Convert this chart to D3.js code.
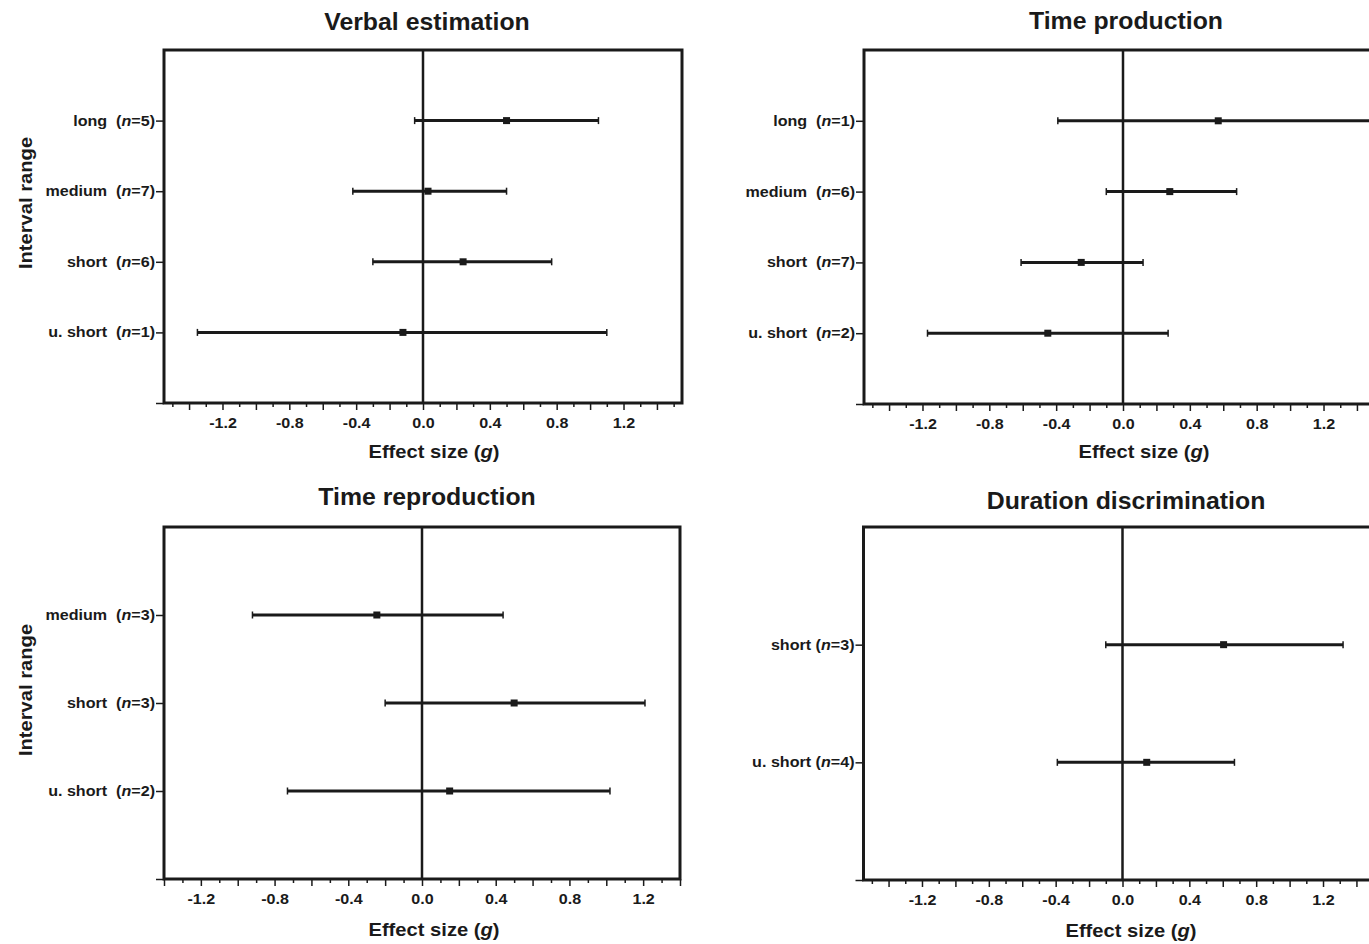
<!DOCTYPE html>
<html>
<head>
<meta charset="utf-8">
<script src="https://cdn.jsdelivr.net/npm/d3@7"></script>
<style>
  html, body { margin: 0; padding: 0; background: #ffffff; }
  svg { display: block; }
  text { font-family: "Liberation Sans", Arial, Helvetica, sans-serif; font-weight: bold; fill: #1a1a1a; white-space: pre; }
</style>
</head>
<body>
<svg id="chart" width="1369" height="944"></svg>
<script>
// ---- Data: effect sizes (Hedges' g) with 95% CI per interval range ----
const verbalRanges = ["u. short", "short", "medium", "long"];
const verbalN      = [1, 6, 7, 5];
const verbalG      = [-0.12, 0.24, 0.03, 0.50];
const verbalLow    = [-1.35, -0.30, -0.42, -0.05];
const verbalHigh   = [1.10, 0.77, 0.50, 1.05];

const productionRanges = ["u. short", "short", "medium", "long"];
const productionN      = [2, 7, 6, 1];
const productionG      = [-0.45, -0.25, 0.28, 0.57];
const productionLow    = [-1.17, -0.61, -0.10, -0.39];
const productionHigh   = [0.27, 0.12, 0.68, 1.53];

const reproductionRanges = ["u. short", "short", "medium"];
const reproductionN      = [2, 3, 3];
const reproductionG      = [0.15, 0.50, -0.245];
const reproductionLow    = [-0.73, -0.20, -0.92];
const reproductionHigh   = [1.02, 1.21, 0.44];

const discriminationRanges = ["u. short", "short"];
const discriminationN      = [4, 3];
const discriminationG      = [0.145, 0.605];
const discriminationLow    = [-0.39, -0.10];
const discriminationHigh   = [0.67, 1.32];

const panelTitles = ["Verbal estimation", "Time production", "Time reproduction", "Duration discrimination"];
const xTickLabels = [-1.2, -0.8, -0.4, 0.0, 0.4, 0.8, 1.2];
const xAxisTitle = "Effect size";
const yAxisTitle = "Interval range";

function rows(ranges, n, g, lo, hi) {
  return ranges.map((r, i) => ({ pos: i + 1, range: r, n: n[i], g: g[i], lo: lo[i], hi: hi[i] }));
}

// ---- Layout of the four panels ----
const panels = [
  { title: panelTitles[0], data: rows(verbalRanges, verbalN, verbalG, verbalLow, verbalHigh),
    left: 164, top: 50, w: 518, h: 353, xMax: 1.55, gap: "  ",
    titleX: 427, titleY: 30, xTitleX: 434, xTitleY: 458, yTitleY: 203, showYTitle: true },
  { title: panelTitles[1], data: rows(productionRanges, productionN, productionG, productionLow, productionHigh),
    left: 864, top: 50, w: 518, h: 354, xMax: 1.55, gap: "  ",
    titleX: 1126, titleY: 29, xTitleX: 1144, xTitleY: 458, showYTitle: false },
  { title: panelTitles[2], data: rows(reproductionRanges, reproductionN, reproductionG, reproductionLow, reproductionHigh),
    left: 164, top: 527, w: 516, h: 352, xMax: 1.4, gap: "  ",
    titleX: 427, titleY: 505, xTitleX: 434, xTitleY: 936, yTitleY: 690, showYTitle: true },
  { title: panelTitles[3], data: rows(discriminationRanges, discriminationN, discriminationG, discriminationLow, discriminationHigh),
    left: 863.5, top: 527, w: 518, h: 353, xMax: 1.55, gap: " ",
    titleX: 1126, titleY: 509, xTitleX: 1131, xTitleY: 937, showYTitle: false }
];

const ink = "#1a1a1a";
const svg = d3.select("#chart");

// text drawn with a slight horizontal stretch around its anchor point
function stretched(parent, x, y, sx, size, anchor, rotate) {
  const g = parent.append("g")
    .attr("transform", `translate(${x},${y})${rotate ? ` rotate(${rotate})` : ""} scale(${sx},1)`);
  return g.append("text")
    .attr("text-anchor", anchor)
    .attr("font-size", size);
}

function fmt(v) {
  const s = Math.abs(v) < 1e-9 ? "0.0" : v.toFixed(1);
  return s;
}

panels.forEach(p => {
  const g = svg.append("g");
  const x = d3.scaleLinear().domain([-p.xMax, p.xMax]).range([p.left, p.left + p.w]);
  const nRows = p.data.length;
  const y = d3.scaleLinear().domain([0, nRows + 1]).range([p.top + p.h, p.top]);
  const bottom = p.top + p.h;

  // x axis: ticks every 0.1, longer at every 0.2, labelled every 0.4
  const kMin = Math.ceil(-p.xMax * 10 - 1e-9), kMax = Math.floor(p.xMax * 10 + 1e-9);
  const tickVals = d3.range(kMin, kMax + 1).map(k => k / 10);
  const labelSet = new Set(xTickLabels.map(v => Math.round(v * 10)));
  const xAxis = d3.axisBottom(x).tickValues(tickVals).tickSize(7)
    .tickFormat(v => labelSet.has(Math.round(v * 10)) ? fmt(v) : "");
  const xa = g.append("g").attr("transform", `translate(0,${bottom})`).call(xAxis);
  xa.select(".domain").remove();
  xa.selectAll(".tick line")
    .attr("stroke", ink).attr("stroke-width", 1.5)
    .attr("y2", v => Math.round(v * 10) % 2 === 0 ? 7 : 4);
  xa.selectAll(".tick text")
    .attr("font-family", null)
    .attr("font-size", 14)
    .attr("fill", ink)
    .attr("y", 25).attr("dy", 0)
    .attr("transform", "scale(1.15,1)");

  // y axis: one tick per interval range plus the origin
  const yAxis = d3.axisLeft(y).tickValues([0].concat(p.data.map(d => d.pos))).tickSize(8).tickFormat("");
  const ya = g.append("g").attr("transform", `translate(${p.left},0)`).call(yAxis);
  ya.select(".domain").remove();
  ya.selectAll(".tick line").attr("stroke", ink).attr("stroke-width", 1.5);

  // category labels, e.g. "long  (n=5)"
  p.data.forEach(d => {
    const t = stretched(g, p.left - 9, y(d.pos), 1.15, 14, "end").attr("dy", "0.36em");
    t.append("tspan").text(d.range + p.gap + "(");
    t.append("tspan").attr("font-style", "italic").text("n");
    t.append("tspan").text("=" + d.n + ")");
  });

  // zero reference line
  g.append("line")
    .attr("x1", x(0)).attr("x2", x(0))
    .attr("y1", p.top).attr("y2", bottom)
    .attr("stroke", ink).attr("stroke-width", 2.5);

  // confidence intervals with caps and point estimates
  const bars = g.selectAll(".ci").data(p.data).enter().append("g").attr("class", "ci");
  bars.append("line")
    .attr("x1", d => x(d.lo)).attr("x2", d => x(d.hi))
    .attr("y1", d => y(d.pos)).attr("y2", d => y(d.pos))
    .attr("stroke", ink).attr("stroke-width", 3);
  ["lo", "hi"].forEach(k => {
    bars.append("line")
      .attr("x1", d => x(d[k])).attr("x2", d => x(d[k]))
      .attr("y1", d => y(d.pos) - 3.5).attr("y2", d => y(d.pos) + 3.5)
      .attr("stroke", ink).attr("stroke-width", 1.5);
  });
  bars.append("rect")
    .attr("x", d => x(d.g) - 3.5).attr("y", d => y(d.pos) - 3.5)
    .attr("width", 7).attr("height", 7)
    .attr("fill", ink);

  // plot frame
  g.append("rect")
    .attr("x", p.left).attr("y", p.top)
    .attr("width", p.w).attr("height", p.h)
    .attr("fill", "none").attr("stroke", ink).attr("stroke-width", 3);

  // panel title
  stretched(g, p.titleX, p.titleY, 1.08, 23, "middle").text(p.title);

  // x axis title with italic g
  const xt = stretched(g, p.xTitleX, p.xTitleY, 1.12, 18, "middle");
  xt.append("tspan").text(xAxisTitle + " (");
  xt.append("tspan").attr("font-style", "italic").text("g");
  xt.append("tspan").text(")");

  // y axis title
  if (p.showYTitle) {
    stretched(g, 32, p.yTitleY, 1.12, 18, "middle", -90).text(yAxisTitle);
  }
});
</script>
</body>
</html>
